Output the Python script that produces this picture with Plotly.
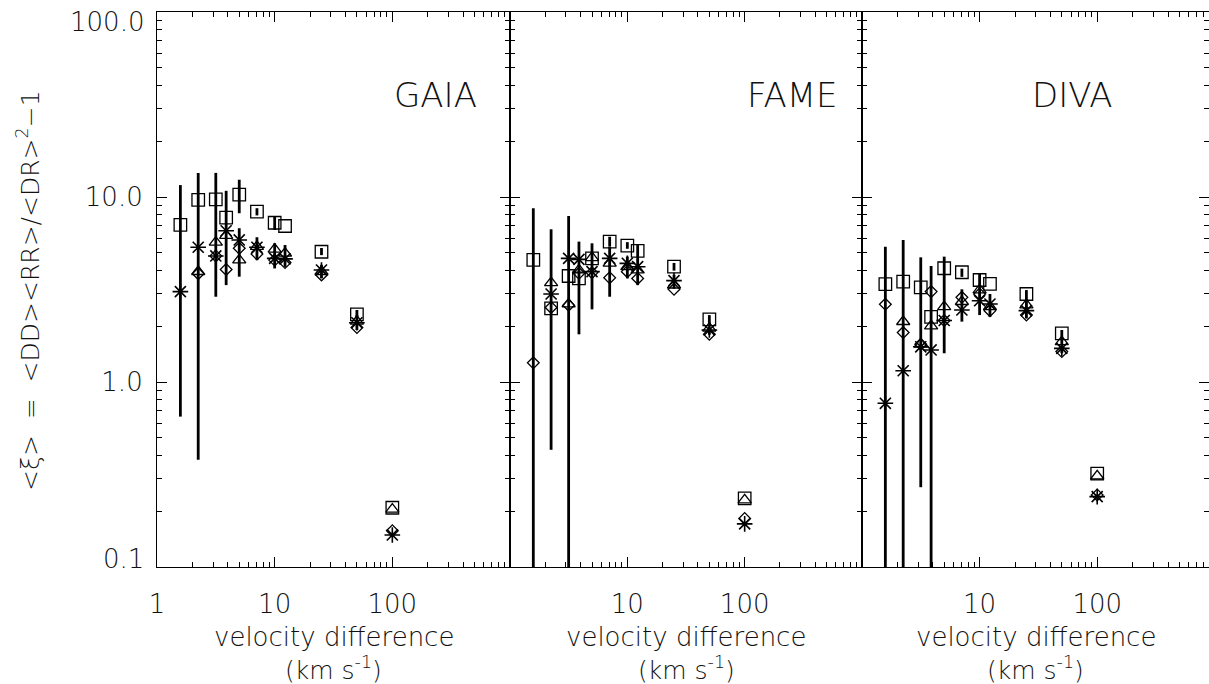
import math
import plotly.graph_objects as go

# ---------------- data ----------------
x_vals = [1.58, 2.24, 3.16, 3.87, 5.0, 7.07, 10.0, 12.25, 25.0, 50.0, 100.0]

panel_names = ["GAIA", "FAME", "DIVA"]

# GAIA
gaia_square   = [7.06, 9.64, 9.71, 7.73, 10.3, 8.33, 7.26, 6.97, 5.06, 2.32, 0.209]
gaia_triangle = [None, 3.95, 5.69, 6.2, 4.56, 5.4, 5.22, 4.96, 3.95, 2.13, 0.205]
gaia_diamond  = [None, 3.85, 4.8, 4.06, 5.28, 4.92, 4.56, 4.42, 3.79, 1.97, 0.157]
gaia_aster    = [3.08, 5.35, 4.8, 6.57, 5.86, 5.35, 4.66, 4.63, 4.03, 2.09, 0.149]
gaia_sq_lo    = [0.65, 0.38, 2.89, 3.34, 8.17, 7.95, 6.63, None, 4.85, 2.2, None]
gaia_sq_hi    = [11.6, 13.5, 13.5, 10.8, 12.4, 8.7, 7.83, None, 5.3, 2.45, None]
gaia_as_lo    = [None, None, None, None, 3.71, 4.56, 4.11, 4.2, 3.63, 1.91, None]
gaia_as_hi    = [None, None, None, None, 6.78, 6.06, 5.62, 5.5, 4.3, 2.3, None]

# FAME
fame_square   = [4.57, 2.50, 3.74, 3.63, 4.66, 5.74, 5.46, 5.11, 4.2, 2.18, 0.235]
fame_triangle = [None, 3.44, 2.64, 4.03, 4.7, 4.38, 4.2, 4.03, 3.34, 1.95, 0.23]
fame_diamond  = [1.27, 2.53, 2.60, 3.87, 3.9, 3.66, 3.95, 3.63, 3.17, 1.81, 0.183]
fame_aster    = [None, 2.99, 4.66, 4.60, 3.95, 4.66, 4.38, 4.2, 3.53, 1.91, 0.171]
fame_sq_lo    = [0.01, 0.43, 0.01, 1.81, 2.47, 5.4, 5.25, None, 4.0, 2.05, None]
fame_sq_hi    = [8.69, 6.69, 7.89, 5.74, 5.62, 6.1, 5.7, None, 4.4, 2.3, None]
fame_as_lo    = [None, None, None, None, None, 2.89, 3.63, 3.34, 3.2, 1.8, None]
fame_as_hi    = [None, None, None, None, None, 5.39, 4.76, 5.5, 3.8, 2.0, None]

# DIVA
diva_square   = [3.38, 3.49, 3.25, 2.25, 4.12, 3.92, 3.56, 3.39, 2.99, 1.83, 0.32]
diva_triangle = [None, 2.12, 1.6, 2.01, 2.55, 2.72, 3.14, 2.55, 2.61, 1.65, 0.31]
diva_diamond  = [2.63, 1.85, 1.6, 3.08, 2.15, 2.87, 2.99, 2.43, 2.3, 1.46, 0.245]
diva_aster    = [0.767, 1.15, 1.55, 1.49, 2.15, 2.45, 2.75, 2.64, 2.43, 1.52, 0.24]
diva_sq_lo    = [0.01, 0.01, 0.27, 0.01, 1.43, 3.7, None, None, None, None, None]
diva_sq_hi    = [5.39, 5.86, 4.72, 4.24, 4.76, 4.1, None, None, None, None, None]
diva_as_lo    = [None, None, None, None, None, 2.12, 2.3, 2.25, 2.21, 1.43, None]
diva_as_hi    = [None, None, None, None, None, 3.17, 3.84, 2.99, 3.14, 1.91, None]

# tick labels
y_tick_vals = [0.1, 1, 10, 100]
y_tick_text = ["0.1", "1.0", "10.0", "100.0"]
x_tick_vals_first = [1, 10, 100]
x_tick_text_first = ["1", "10", "100"]
x_tick_vals_other = [10, 100]
x_tick_text_other = ["10", "100"]

panels = [
    dict(sq=gaia_square, tri=gaia_triangle, dia=gaia_diamond, ast=gaia_aster,
         sq_lo=gaia_sq_lo, sq_hi=gaia_sq_hi, as_lo=gaia_as_lo, as_hi=gaia_as_hi),
    dict(sq=fame_square, tri=fame_triangle, dia=fame_diamond, ast=fame_aster,
         sq_lo=fame_sq_lo, sq_hi=fame_sq_hi, as_lo=fame_as_lo, as_hi=fame_as_hi),
    dict(sq=diva_square, tri=diva_triangle, dia=diva_diamond, ast=diva_aster,
         sq_lo=diva_sq_lo, sq_hi=diva_sq_hi, as_lo=diva_as_lo, as_hi=diva_as_hi),
]

# ---------------- layout geometry ----------------
W, H = 1209, 684
ML, MR, MT, MB = 157, 0, 12, 117
PW = W - ML - MR
PH = H - MT - MB
d1 = 353 / PW
d2 = 705 / PW
domains = [[0, d1], [d1, d2], [d2, 1.0]]
decade_px = 117.6
x_ranges = [[0, 3], [0, 3], [0, (PW - 705) / decade_px]]
y_range = [-1.0, 2.0]

FONT = "DejaVu Sans"
FW = 200
TXT = "#111"
BLACK = "black"


def err_arrays(vals, lo, hi):
    plus, minus = [], []
    for v, l, h in zip(vals, lo, hi):
        if v is None or l is None or h is None:
            plus.append(0)
            minus.append(0)
        else:
            plus.append(h - v)
            minus.append(v - l)
    return plus, minus


fig = go.Figure()

for i, p in enumerate(panels):
    xa = "x" if i == 0 else f"x{i+1}"
    ya = "y" if i == 0 else f"y{i+1}"
    sp, sm = err_arrays(p["sq"], p["sq_lo"], p["sq_hi"])
    ap, am = err_arrays(p["ast"], p["as_lo"], p["as_hi"])
    err_style = dict(type="data", symmetric=False, color=BLACK, thickness=2.8, width=0)
    fig.add_trace(go.Scatter(
        x=x_vals, y=p["sq"], mode="markers", xaxis=xa, yaxis=ya, showlegend=False,
        marker=dict(symbol="square-open", size=12.5, color=BLACK, line=dict(width=1.3, color=BLACK)),
        error_y=dict(array=sp, arrayminus=sm, **err_style)))
    fig.add_trace(go.Scatter(
        x=x_vals, y=p["tri"], mode="markers", xaxis=xa, yaxis=ya, showlegend=False,
        marker=dict(symbol="triangle-up-open", size=11.5, color=BLACK, line=dict(width=1.3, color=BLACK))))
    fig.add_trace(go.Scatter(
        x=x_vals, y=p["dia"], mode="markers", xaxis=xa, yaxis=ya, showlegend=False,
        marker=dict(symbol="diamond-open", size=9, color=BLACK, line=dict(width=1.3, color=BLACK))))
    fig.add_trace(go.Scatter(
        x=x_vals, y=p["ast"], mode="markers", xaxis=xa, yaxis=ya, showlegend=False,
        marker=dict(symbol="asterisk-open", size=13, color=BLACK, line=dict(width=1.6, color=BLACK)),
        error_y=dict(array=ap, arrayminus=am, **err_style)))

axis_common = dict(
    type="log", showgrid=False, zeroline=False, showline=True, linecolor=BLACK, linewidth=1.2,
    ticks="inside", ticklen=10, tickwidth=1.2, tickcolor=BLACK, mirror="allticks",
    minor=dict(ticks="inside", ticklen=5, tickwidth=1.2, tickcolor=BLACK, dtick="D1", showgrid=False),
    tickfont=dict(family=FONT, size=26, color=TXT, weight=FW),
)

layout = dict(
    width=W, height=H, margin=dict(l=ML, r=MR, t=MT, b=MB, pad=0),
    paper_bgcolor="white", plot_bgcolor="white",
    font=dict(family=FONT, color=TXT, weight=FW),
)

for i in range(3):
    xk = "xaxis" if i == 0 else f"xaxis{i+1}"
    yk = "yaxis" if i == 0 else f"yaxis{i+1}"
    ya_ref = "y" if i == 0 else f"y{i+1}"
    xa_ref = "x" if i == 0 else f"x{i+1}"
    layout[xk] = dict(axis_common, domain=domains[i], range=x_ranges[i], anchor=ya_ref,
                      tickvals=x_tick_vals_first if i == 0 else x_tick_vals_other,
                      ticktext=x_tick_text_first if i == 0 else x_tick_text_other,
                      ticklabelstandoff=14)
    if i == 0:
        # inner y labels as tick labels; the two end labels are annotations (nudged inward)
        layout[yk] = dict(axis_common, domain=[0, 1], range=y_range, anchor=xa_ref,
                          tickvals=y_tick_vals[1:3], ticktext=y_tick_text[1:3],
                          ticklabelstandoff=8)
    else:
        layout[yk] = dict(axis_common, domain=[0, 1], range=y_range, anchor=xa_ref,
                          tickvals=y_tick_vals[1:3], showticklabels=False)

fig.update_layout(**layout)

# end y tick labels (0.1 and 100.0), nudged inward
for val, txt, shift in [(y_tick_vals[0], y_tick_text[0], 8), (y_tick_vals[3], y_tick_text[3], -10)]:
    fig.add_annotation(x=(146 - ML) / PW, y=math.log10(val), xref="paper", yref="y", yshift=shift,
                       text=txt, showarrow=False, xanchor="right", yanchor="middle",
                       font=dict(family=FONT, size=26, color=TXT, weight=FW))

# panel labels (x given as log10 of the data position)
label_x = [100, 100, 27]
for i, name in enumerate(panel_names):
    xa = "x" if i == 0 else f"x{i+1}"
    ya = "y" if i == 0 else f"y{i+1}"
    fig.add_annotation(x=math.log10(label_x[i]), y=math.log10(35.6), xref=xa, yref=ya, text=name,
                       showarrow=False, xanchor="left", yanchor="middle",
                       font=dict(family=FONT, size=34, color=TXT, weight=FW))

# x-axis titles (two lines)
for i in range(3):
    cx = (domains[i][0] + domains[i][1]) / 2
    fig.add_annotation(x=cx, y=-(637 - (H - MB)) / PH, xref="paper", yref="paper",
                       text="velocity difference", showarrow=False,
                       xanchor="center", yanchor="middle",
                       font=dict(family=FONT, size=26, color=TXT, weight=FW))
    fig.add_annotation(x=cx, y=-(668 - (H - MB)) / PH, xref="paper", yref="paper",
                       text="(km s<sup>-1</sup>)", showarrow=False,
                       xanchor="center", yanchor="middle",
                       font=dict(family=FONT, size=25, color=TXT, weight=FW))

# y-axis title
fig.add_annotation(x=(28 - ML) / PW, y=((H - MB) - 291) / PH, xref="paper", yref="paper",
                   text="&lt;ξ&gt;&nbsp; = &nbsp;&lt;DD&gt;&lt;RR&gt;/&lt;DR&gt;<sup>2</sup>−1",
                   textangle=-90, showarrow=False, xanchor="center", yanchor="middle",
                   font=dict(family=FONT, size=25, color=TXT, weight=FW))

fig.write_html("out.html")
